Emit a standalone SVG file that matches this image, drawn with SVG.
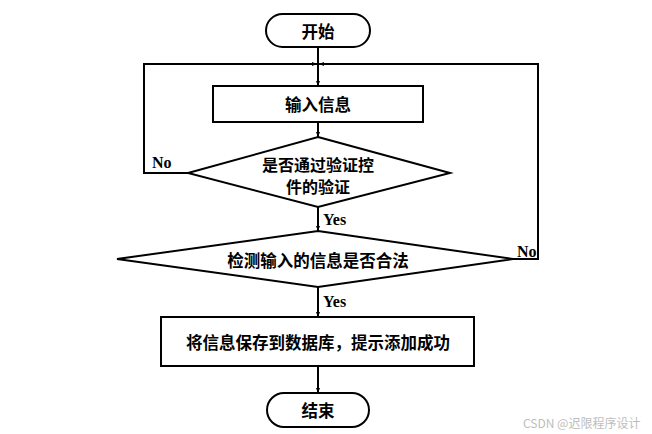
<svg xmlns="http://www.w3.org/2000/svg" width="652" height="434" viewBox="0 0 652 434">
<style>
.s{fill:#fff;stroke:#000;stroke-width:2}
.c{fill:none;stroke:#000;stroke-width:2}
.t{font-family:"Noto Sans CJK SC","Noto Sans",sans-serif;font-weight:bold;font-size:16.5px;fill:#000;text-anchor:middle;dominant-baseline:central}
.l{font-family:"Liberation Serif",serif;font-weight:bold;font-size:16px;fill:#000;dominant-baseline:central}
.w{font-family:"Noto Sans CJK SC","Noto Sans",sans-serif;font-size:12px;fill:#bdbdbd;dominant-baseline:central}
</style>
<defs>
<marker id="a" viewBox="0 0 10 10" refX="10" refY="5" markerWidth="5" markerHeight="5" orient="auto" markerUnits="userSpaceOnUse">
<path d="M0,1 L10,5 L0,9 z" fill="#000"/>
</marker>
</defs>
<rect width="652" height="434" fill="#fff"/>
<g id="connectors">
<path class="c" d="M318,47 V86" marker-end="url(#a)"/>
<path class="c" d="M318,122 V137" marker-end="url(#a)"/>
<path class="c" d="M318,207 V231" marker-end="url(#a)"/>
<path class="c" d="M318,287 V317" marker-end="url(#a)"/>
<path class="c" d="M318,366 V393" marker-end="url(#a)"/>
<path class="c" d="M188,173 H144 V64 H317" marker-end="url(#a)"/>
<path class="c" d="M513,259 H538 V64 H319" marker-end="url(#a)"/>
<text class="l" x="152" y="162">No</text>
<text class="l" x="517" y="251">No</text>
<text class="l" x="323" y="219">Yes</text>
<text class="l" x="323" y="301">Yes</text>
</g>
<g id="start">
<rect class="s" x="266" y="14" width="104" height="33" rx="16.5"/>
<text class="t" x="318" y="31">开始</text>
</g>
<g id="input">
<rect class="s" x="213" y="86" width="210" height="36"/>
<text class="t" x="318" y="104">输入信息</text>
</g>
<g id="check1">
<polygon class="s" points="318,137 450,173 318,207 188,173"/>
<text class="t" x="318" y="164" style="font-size:16px">是否通过验证控</text>
<text class="t" x="318" y="186" style="font-size:16px">件的验证</text>
</g>
<g id="check2">
<polygon class="s" points="318,231 513,259 318,287 117,259"/>
<text class="t" x="318" y="260">检测输入的信息是否合法</text>
</g>
<g id="save">
<rect class="s" x="161" y="317" width="313" height="49"/>
<text class="t" x="318" y="342">将信息保存到数据库，提示添加成功</text>
</g>
<g id="end">
<rect class="s" x="267" y="393" width="102" height="34" rx="17"/>
<text class="t" x="318" y="410">结束</text>
</g>
<text class="w" x="523" y="422">CSDN @迟限程序设计</text>
</svg>
